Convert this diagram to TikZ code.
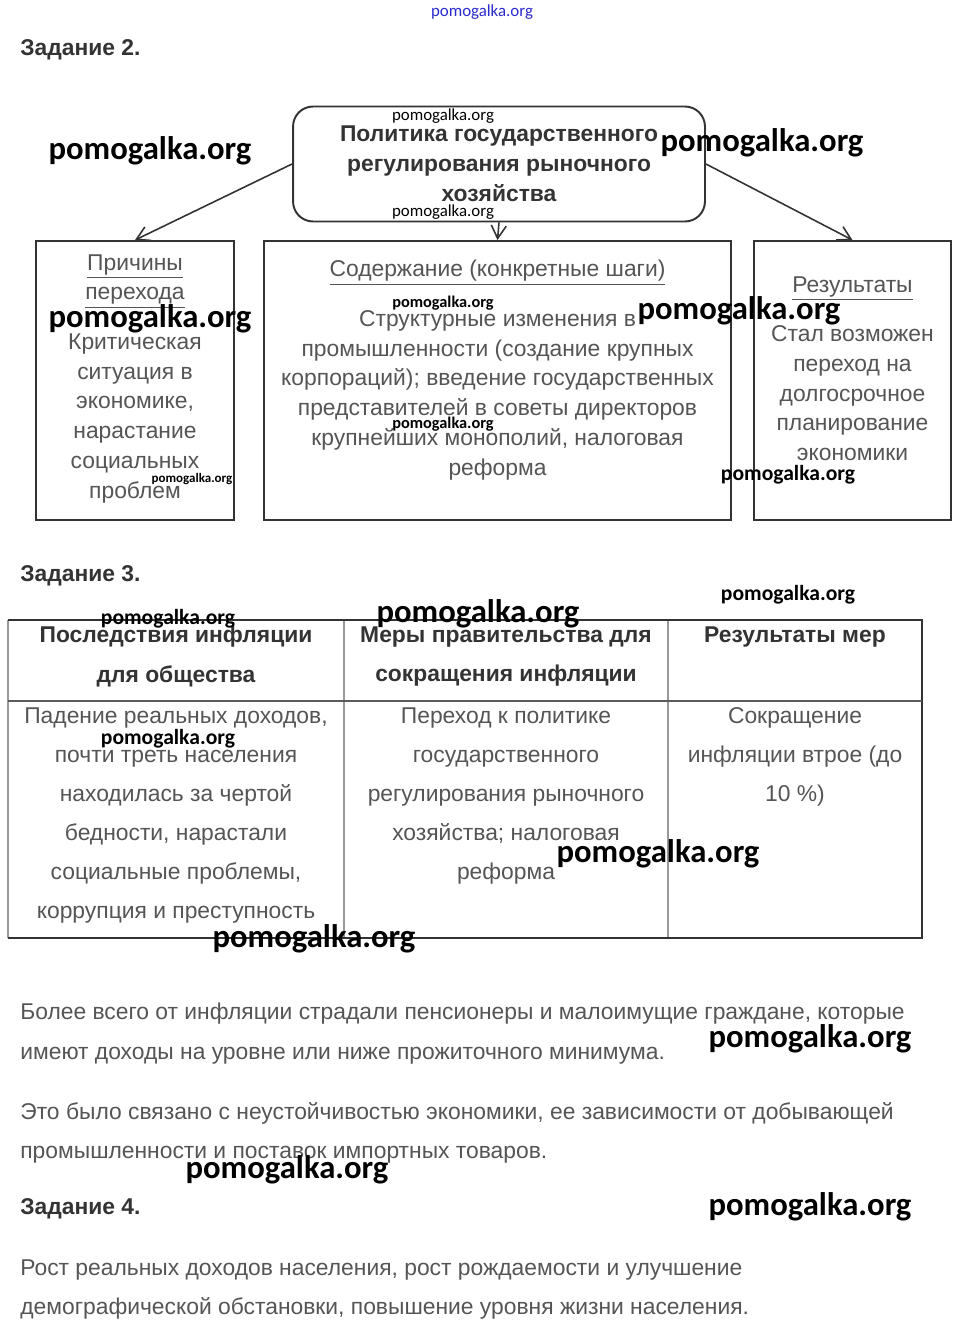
\documentclass[tikz,border=0pt]{standalone}
\usepackage{fontspec}
\setmainfont{Liberation Sans}
\newfontfamily\wmfont{Carlito}
\usetikzlibrary{arrows.meta,positioning}
\definecolor{heading}{HTML}{333333}
\definecolor{bodytext}{HTML}{555555}
\definecolor{frame}{HTML}{333333}
\definecolor{rulegray}{HTML}{999999}
\definecolor{wmblue}{HTML}{2A2AD0}

\begin{document}
\begin{tikzpicture}[
    x=0.02cm, y=-0.02cm,
    every node/.style={inner sep=0pt, font=\fontsize{13}{17}\selectfont},
    sectionhead/.style={anchor=west, text=heading, font=\fontsize{13}{17}\selectfont\bfseries},
    policybox/.style={draw=frame, line width=1.1pt, rounded corners=0.4cm, minimum width=8.24cm, minimum height=2.3cm,
                      align=center, text=heading, font=\fontsize{13}{17}\selectfont\bfseries},
    stepbox/.style={draw=frame, line width=1.1pt, minimum height=5.58cm},
    boxtext/.style={anchor=north, align=center, text=bodytext},
    cellhead/.style={anchor=north, align=center, text=heading, font=\fontsize{13}{22.7}\selectfont\bfseries},
    cellbody/.style={anchor=north, align=center, text=bodytext, font=\fontsize{13}{22.3}\selectfont},
    para/.style={anchor=north west, align=left, text=bodytext, font=\fontsize{13}{22.4}\selectfont},
    arrow/.style={-{Straight Barb[length=2.6mm, width=3mm]}, line width=0.9pt, frame},
    wmbig/.style={font=\wmfont\bfseries\fontsize{18.6}{20}\selectfont},
    wmmid/.style={font=\wmfont\bfseries\fontsize{12.3}{14}\selectfont},
    wmsmall/.style={font=\wmfont\bfseries\fontsize{9.3}{11}\selectfont},
    wmthin/.style={font=\wmfont\fontsize{9.6}{11}\selectfont},
    wmtiny/.style={font=\wmfont\bfseries\fontsize{7.4}{9}\selectfont}
]

% Page
\fill[white] (0,0) rectangle (963,1334);
\useasboundingbox (0,0) rectangle (963,1334);

% Task 2: scheme
\node[sectionhead] (task2) at (20,50) {Задание 2.};

\node[policybox] (policy) at (499,164) {Политика государственного\\регулирования рыночного\\хозяйства};

\node[stepbox, minimum width=3.96cm] (reasons) at (135,380.5) {};
\node[stepbox, minimum width=9.34cm] (content) at (497.5,380.5) {};
\node[stepbox, minimum width=3.94cm] (results) at (852.5,380.5) {};

\draw[arrow] (policy.west) -- (reasons.north);
\draw[arrow] (policy.south) -- (content.north);
\draw[arrow] (policy.east) -- (results.north);

\node[boxtext] (reasonstext) at ([yshift=-0.28cm]reasons.north)
  {\underline{Причины}\\\underline{перехода}\\[11pt]Критическая\\ситуация в\\экономике,\\нарастание\\социальных\\проблем};
\node[boxtext] (contenttext) at ([yshift=-0.4cm]content.north)
  {\underline{Содержание (конкретные шаги)}\\[11pt]Структурные изменения в\\промышленности (создание крупных\\корпораций); введение государственных\\представителей в советы директоров\\крупнейших монополий, налоговая\\реформа};
\node[boxtext] (resultstext) at ([yshift=-0.72cm]results.north)
  {\underline{Результаты}\\[11pt]Стал возможен\\переход на\\долгосрочное\\планирование\\экономики};

% Task 3: table
\node[sectionhead] (task3) at (20,576) {Задание 3.};

\draw[rulegray, line width=0.6pt] (8,620) -- (8,938);
\draw[rulegray, line width=0.6pt] (344,620) -- (344,938);
\draw[rulegray, line width=0.6pt] (668,620) -- (668,938);
\draw[frame, line width=0.7pt] (8,620) -- (922,620) -- (922,938) -- (8,938);
\draw[frame!80, line width=0.6pt] (8,701) -- (922,701);

\node[cellhead] (head1) at (176,626) {Последствия инфляции\\для общества};
\node[cellhead] (head2) at (506,626) {Меры правительства для\\сокращения инфляции};
\node[cellhead] (head3) at (795,626) {Результаты мер};

\node[cellbody] (cell1) at (176,707) {Падение реальных доходов,\\почти треть населения\\находилась за чертой\\бедности, нарастали\\социальные проблемы,\\коррупция и преступность};
\node[cellbody] (cell2) at (506,707) {Переход к политике\\государственного\\регулирования рыночного\\хозяйства; налоговая\\реформа};
\node[cellbody] (cell3) at (795,707) {Сокращение\\инфляции втрое (до\\10 \%)};

% Text below the table
\node[para] (para1) at (20,1003) {Более всего от инфляции страдали пенсионеры и малоимущие граждане, которые\\имеют доходы на уровне или ниже прожиточного минимума.};
\node[para] (para2) at (20,1102) {Это было связано с неустойчивостью экономики, ее зависимости от добывающей\\промышленности и поставок импортных товаров.};
\node[sectionhead] (task4) at (20,1209) {Задание 4.};
\node[para] (para3) at (20,1259) {Рост реальных доходов населения, рост рождаемости и улучшение\\демографической обстановки, повышение уровня жизни населения.};

% Watermarks
\node[wmthin, text=wmblue] (wmtop) at (482,12) {pomogalka.org};
\foreach \x/\y [count=\i] in {150/151, 762/143, 150/319, 739/311, 478/614, 658/854, 314/939, 810/1039, 287/1170, 810/1207}
  \node[wmbig] (wmbig\i) at (\x,\y) {pomogalka.org};
\foreach \x/\y [count=\i] in {788/475, 788/595, 168/619, 168/739}
  \node[wmmid] (wmmid\i) at (\x,\y) {pomogalka.org};
\foreach \y [count=\i] in {116, 212}
  \node[wmthin] (wmthin\i) at (443,\y) {pomogalka.org};
\foreach \y [count=\i] in {303, 424}
  \node[wmsmall] (wmsmall\i) at (443,\y) {pomogalka.org};
\node[wmtiny] (wmtiny) at (192,479) {pomogalka.org};

\end{tikzpicture}
\end{document}
